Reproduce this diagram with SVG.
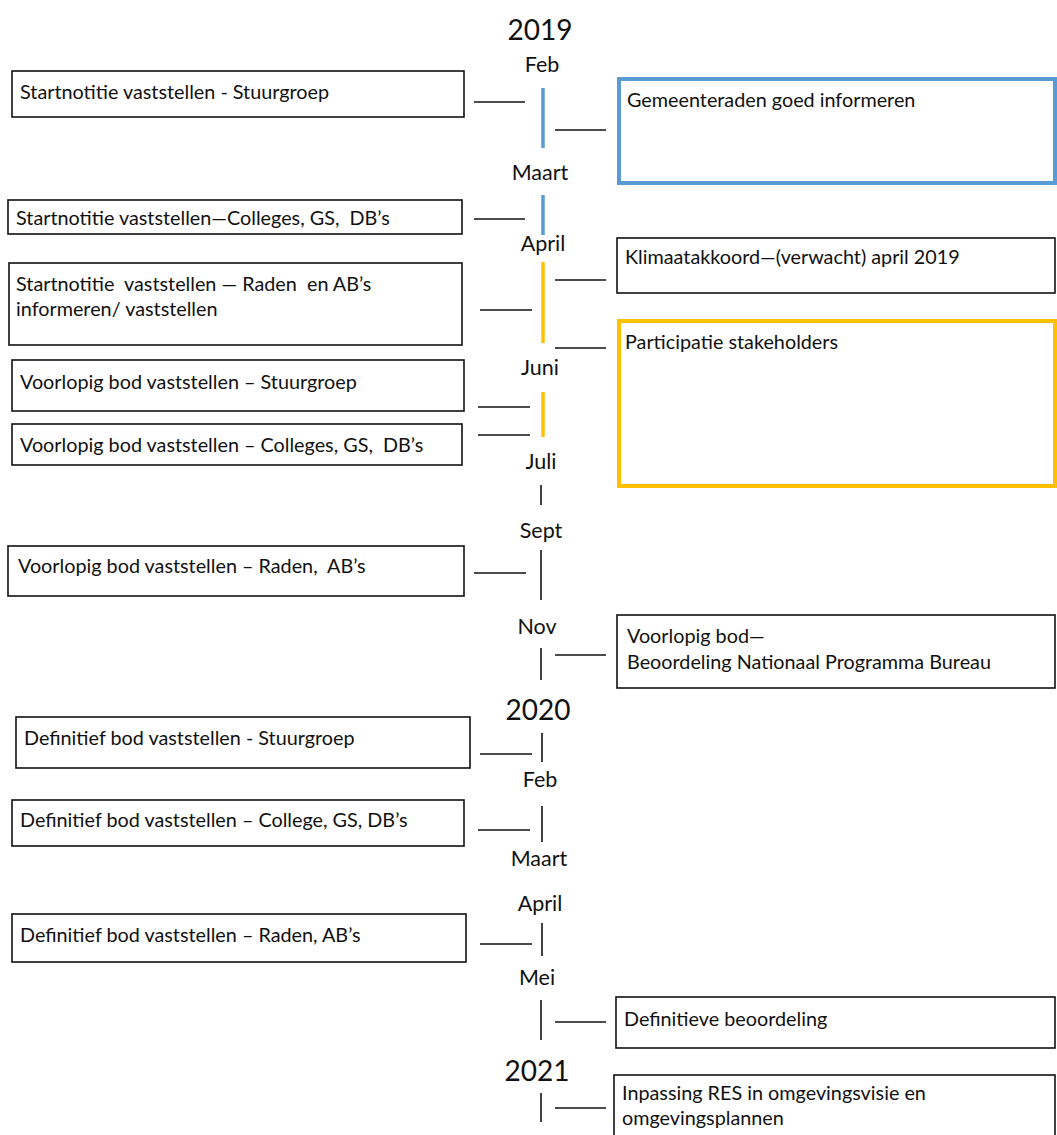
<svg xmlns="http://www.w3.org/2000/svg" width="1057" height="1135" viewBox="0 0 1057 1135">
<style>
text{font-family:Lato,"Liberation Sans",sans-serif;font-size:19.8px;fill:#111;white-space:pre}
.m{text-anchor:middle;font-size:21.5px}
.y{text-anchor:middle;font-size:28px}
.box{fill:#fff;stroke:#111;stroke-width:1.6}
.blue{fill:#fff;stroke:#5B9BD5;stroke-width:4}
.gold{fill:#fff;stroke:#FFC000;stroke-width:4}
.c{stroke:#111;stroke-width:1.6}
.tb{stroke:#5B9BD5;stroke-width:3.5}
.tg{stroke:#FFC000;stroke-width:3.5}
.tk{stroke:#111;stroke-width:1.6}
</style>
<rect width="1057" height="1135" fill="#fff"/>
<g id="labels">
<text class="y" x="540" y="40">2019</text>
<text class="m" x="542" y="72">Feb</text>
<text class="m" x="540" y="180">Maart</text>
<text class="m" x="543" y="251">April</text>
<text class="m" x="540" y="375">Juni</text>
<text class="m" x="541" y="469">Juli</text>
<text class="m" x="541" y="538">Sept</text>
<text class="m" x="537" y="634">Nov</text>
<text class="y" x="538" y="720">2020</text>
<text class="m" x="540" y="787">Feb</text>
<text class="m" x="539" y="866">Maart</text>
<text class="m" x="540" y="911">April</text>
<text class="m" x="537" y="985">Mei</text>
<text class="y" x="537" y="1081">2021</text>
</g>
<g id="connectors">
<line class="tb" x1="543" y1="88" x2="543" y2="148"/>
<line class="tb" x1="543" y1="195" x2="543" y2="235"/>
<line class="tg" x1="543" y1="262" x2="543" y2="343"/>
<line class="tg" x1="543" y1="392" x2="543" y2="437"/>
<line class="tk" x1="541" y1="485" x2="541" y2="505"/>
<line class="tk" x1="541" y1="550" x2="541" y2="600"/>
<line class="tk" x1="541" y1="648" x2="541" y2="680"/>
<line class="tk" x1="542" y1="733" x2="542" y2="762"/>
<line class="tk" x1="542" y1="806" x2="542" y2="842"/>
<line class="tk" x1="542" y1="923" x2="542" y2="956"/>
<line class="tk" x1="541" y1="1000" x2="541" y2="1040"/>
<line class="tk" x1="541" y1="1093" x2="541" y2="1122"/>
<line class="c" x1="474" y1="102" x2="525" y2="102"/>
<line class="c" x1="555" y1="130" x2="606" y2="130"/>
<line class="c" x1="474" y1="219" x2="525" y2="219"/>
<line class="c" x1="555" y1="280" x2="606" y2="280"/>
<line class="c" x1="480" y1="310" x2="532" y2="310"/>
<line class="c" x1="555" y1="348" x2="606" y2="348"/>
<line class="c" x1="478" y1="407" x2="530" y2="407"/>
<line class="c" x1="478" y1="435" x2="530" y2="435"/>
<line class="c" x1="474" y1="573" x2="526" y2="573"/>
<line class="c" x1="555" y1="655" x2="606" y2="655"/>
<line class="c" x1="480" y1="754" x2="532" y2="754"/>
<line class="c" x1="478" y1="830" x2="530" y2="830"/>
<line class="c" x1="480" y1="944" x2="532" y2="944"/>
<line class="c" x1="555" y1="1022" x2="606" y2="1022"/>
<line class="c" x1="555" y1="1108" x2="606" y2="1108"/>
</g>
<g id="n1"><rect class="box" x="12" y="71" width="452" height="46"/><text x="20" y="99">Startnotitie vaststellen - Stuurgroep</text></g>
<g id="n2"><rect class="blue" x="619" y="79" width="436" height="104"/><text x="627" y="107">Gemeenteraden goed informeren</text></g>
<g id="n3"><rect class="box" x="8" y="200" width="454" height="34"/><text x="16" y="225">Startnotitie vaststellen—Colleges, GS,  DB’s</text></g>
<g id="n4"><rect class="box" x="617" y="238" width="438" height="55"/><text x="625" y="264">Klimaatakkoord—(verwacht) april 2019</text></g>
<g id="n5"><rect class="box" x="9" y="263" width="453" height="82"/><text x="16" y="291">Startnotitie  vaststellen — Raden  en AB’s</text><text x="16" y="316">informeren/ vaststellen</text></g>
<g id="n6"><rect class="gold" x="619" y="321" width="436" height="165"/><text x="625" y="349">Participatie stakeholders</text></g>
<g id="n7"><rect class="box" x="12" y="360" width="452" height="51"/><text x="20" y="389">Voorlopig bod vaststellen – Stuurgroep</text></g>
<g id="n8"><rect class="box" x="12" y="424" width="450" height="41"/><text x="20" y="452">Voorlopig bod vaststellen – Colleges, GS,  DB’s</text></g>
<g id="n9"><rect class="box" x="8" y="546" width="456" height="50"/><text x="18" y="573">Voorlopig bod vaststellen – Raden,  AB’s</text></g>
<g id="n10"><rect class="box" x="617" y="615" width="438" height="73"/><text x="627" y="643">Voorlopig bod—</text><text x="627" y="669">Beoordeling Nationaal Programma Bureau</text></g>
<g id="n11"><rect class="box" x="16" y="717" width="454" height="51"/><text x="24" y="745">Definitief bod vaststellen - Stuurgroep</text></g>
<g id="n12"><rect class="box" x="12" y="800" width="452" height="46"/><text x="20" y="827">Definitief bod vaststellen – College, GS, DB’s</text></g>
<g id="n13"><rect class="box" x="12" y="914" width="454" height="48"/><text x="20" y="942">Definitief bod vaststellen – Raden, AB’s</text></g>
<g id="n14"><rect class="box" x="616" y="997" width="439" height="51"/><text x="624" y="1026">Definitieve beoordeling</text></g>
<g id="n15"><rect class="box" x="614" y="1075" width="441" height="65"/><text x="622" y="1100">Inpassing RES in omgevingsvisie en</text><text x="622" y="1125">omgevingsplannen</text></g>
</svg>
